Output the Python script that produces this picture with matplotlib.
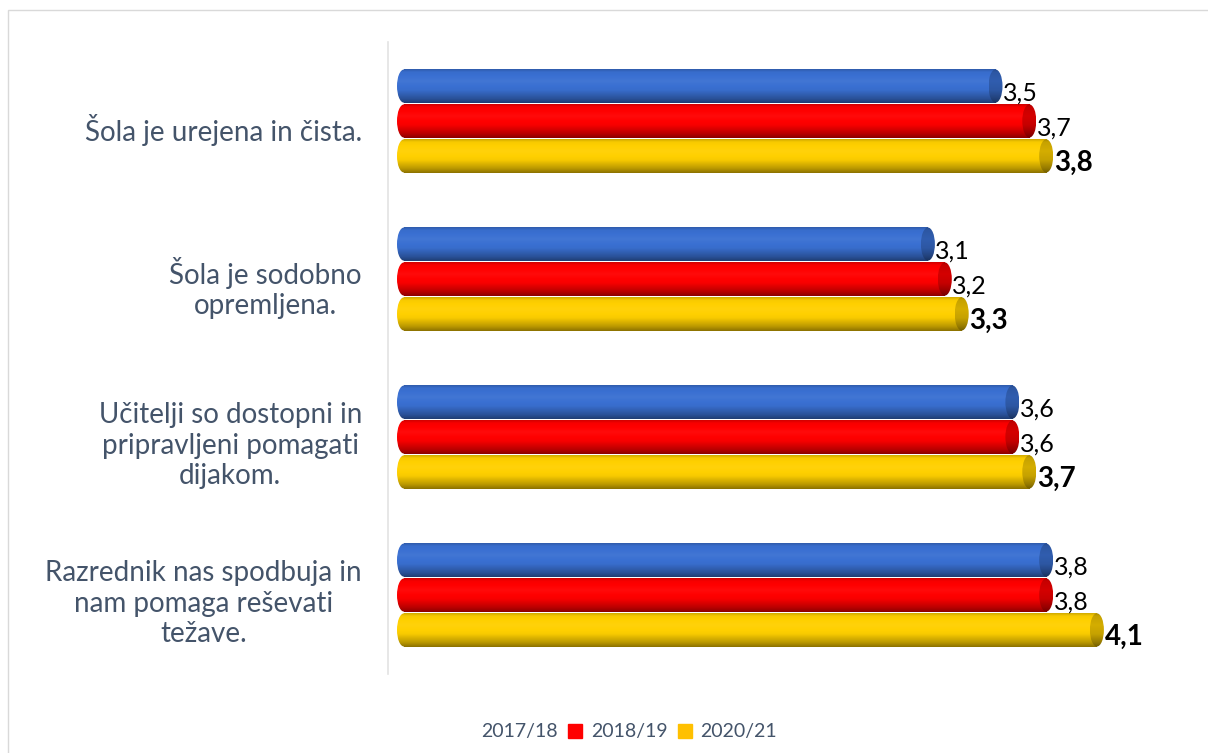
import numpy as np
import matplotlib.pyplot as plt
from matplotlib.patches import Ellipse, Rectangle
from matplotlib.lines import Line2D
from matplotlib.colors import to_rgb

plt.rcParams['font.family'] = ['Lato', 'DejaVu Sans']

# data
categories = ["Šola je urejena in čista.",
              "Šola je sodobno\nopremljena.",
              "Učitelji so dostopni in\npripravljeni pomagati\ndijakom.",
              "Razrednik nas spodbuja in\nnam pomaga reševati\ntežave."]
years = ['2017/18', '2018/19', '2020/21']
v_1718 = [3.5, 3.1, 3.6, 3.8]
v_1819 = [3.7, 3.2, 3.6, 3.8]
v_2021 = [3.8, 3.3, 3.7, 4.1]

series = [v_1718, v_1819, v_2021]
colors = ['#3a70d2', '#ff0000', '#ffd000']
text_col = '#44546a'


def shade(color, f):
    c = np.array(to_rgb(color))
    if f >= 1:
        return c + (1 - c) * (f - 1)
    return c * f


def gradient(color, dark=1.0):
    t = np.linspace(0, 1, 64)
    prof = np.interp(t, [0, 0.08, 0.35, 0.62, 0.88, 1.0],
                     [0.82, 0.97, 1.04, 0.97, 0.72, 0.55])
    rows = np.array([np.clip(shade(color, p * dark), 0, 1) for p in prof])
    return np.repeat(rows[:, None, :], 2, axis=1)


def cylinder(ax, yc, v, h, color, a):
    y0, y1 = yc - h / 2, yc + h / 2
    img = gradient(color)
    left = Ellipse((0, yc), 2 * a, h, transform=ax.transData)
    im = ax.imshow(img, extent=(-a, a, y1, y0), aspect='auto',
                   interpolation='bilinear', zorder=2)
    im.set_clip_path(left)
    ax.imshow(img, extent=(0, v, y1, y0), aspect='auto',
              interpolation='bilinear', zorder=2)
    cap = Ellipse((v, yc), 2 * a, h, transform=ax.transData)
    im = ax.imshow(gradient(color, 0.8), extent=(v - a, v + a, y1, y0),
                   aspect='auto', interpolation='bilinear', zorder=3)
    im.set_clip_path(cap)


fig = plt.figure(figsize=(12.08, 7.53), dpi=100)
fig.patches.append(Rectangle((8 / 1208, -0.05), 1.1, 1.05 - 10 / 753,
                             transform=fig.transFigure, fill=False,
                             edgecolor='#d9d9d9', lw=1))
ax = fig.add_axes([388 / 1208, 79 / 753, 792 / 1208, 632 / 753])

xmin, xmax = -16 / 169, 776 / 169
a = 7 / 169
step = 0.221
h = 0.21

for i, cat in enumerate(categories):
    for j, vals in enumerate(series):
        yc = i + (j - 1) * step
        cylinder(ax, yc, vals[i], h, colors[j], a)
        bold = (j == 2)
        ax.text(vals[i] + a + 0.003, yc + 0.045, f"{vals[i]:.1f}".replace('.', ','),
                ha='left', va='center', fontsize=20 if bold else 18,
                fontweight='bold' if bold else 'normal', color='black', zorder=4)
    ax.text(-42 / 169, i + 0.055, cat, ha='right', va='center',
            multialignment='center', fontsize=20, color=text_col,
            linespacing=1.2, clip_on=False)

ax.set_xlim(xmin, xmax)
ax.set_ylim(3.5, -0.5)
ax.set_xticks([])
ax.set_yticks([])
for s in ['top', 'right', 'bottom']:
    ax.spines[s].set_visible(False)
ax.spines['left'].set_color('#e3e3e3')
ax.spines['left'].set_linewidth(1.2)

handles = [Line2D([], [], marker='s', ls='none', color='none', markersize=9.5)]
handles += [Line2D([], [], marker='s', ls='none', color=c, markersize=9.5)
            for c in ['#ff0000', '#ffc000']]
fig.legend(handles, years, loc='center', bbox_to_anchor=(0.511, 0.028),
           ncol=3, frameon=False, fontsize=14, labelcolor=text_col,
           handlelength=0.8, handletextpad=0.4, columnspacing=0.5)

fig.savefig('out.png', dpi=100)
